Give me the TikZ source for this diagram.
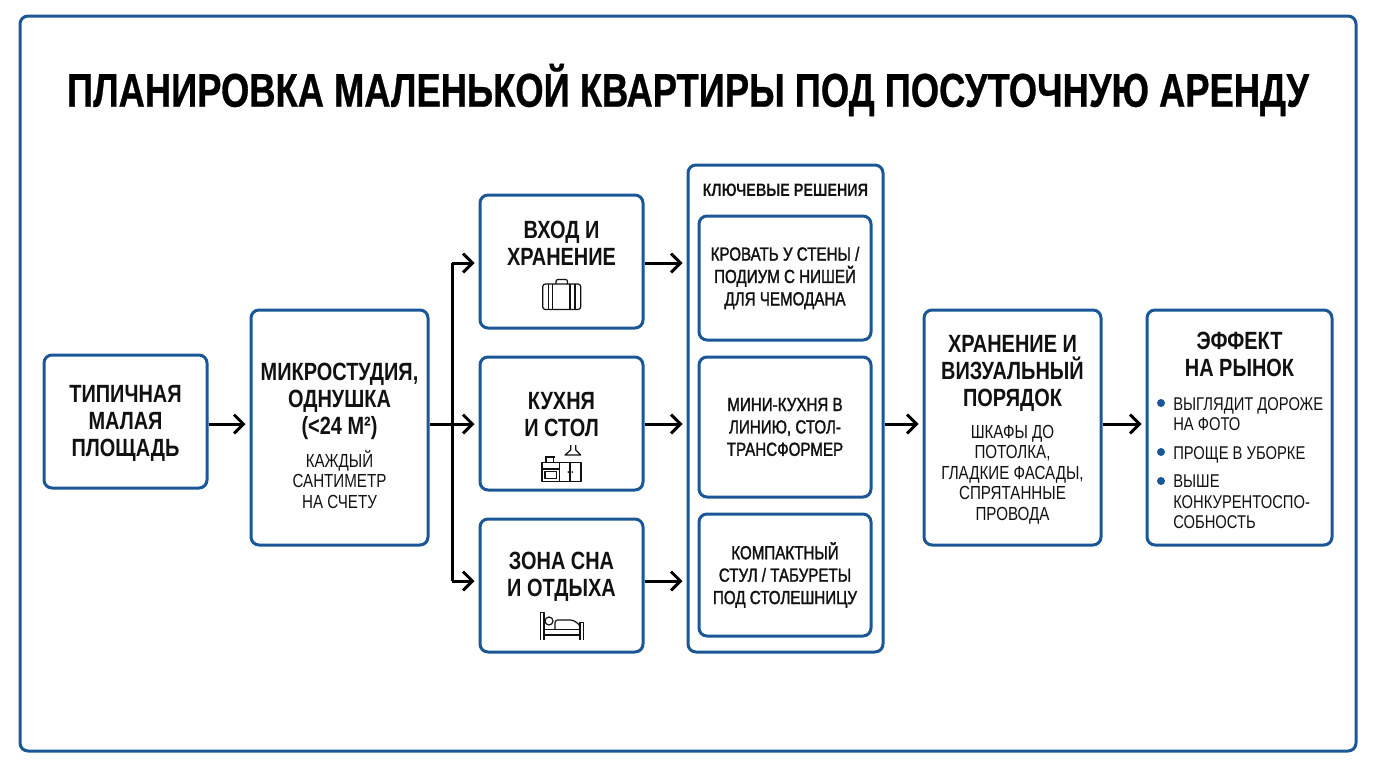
\documentclass[tikz,border=0pt]{standalone}
\usepackage{fontspec}
\setmainfont{Liberation Sans}[FakeStretch=0.8]
\newfontfamily\medfont{Liberation Sans}[FakeStretch=0.8,FakeBold=1.5]
\newfontfamily\titlefont{Liberation Sans Bold}[FakeStretch=0.768,FakeBold=0.6]
\usetikzlibrary{arrows.meta}
\definecolor{frameblue}{HTML}{1B5796}
\definecolor{inkblack}{HTML}{111111}
\newcommand{\headfont}{\bfseries\fontsize{18.7}{20.25}\selectfont}
\newcommand{\subfont}{\fontsize{14.2}{15.3}\selectfont}
\newcommand{\pointfont}{\fontsize{13.85}{15.2}\selectfont}
\newcommand{\solvefont}{\medfont\fontsize{14.2}{16.8}\selectfont}

\begin{document}
\begin{tikzpicture}[x=0.75pt,y=-0.75pt,line join=round,
	box/.style={draw=frameblue,line width=2.25pt,rounded corners=6pt,fill=white,inner sep=0pt,text=inkblack,align=center},
	smallbox/.style={box,minimum width=122.25pt,minimum height=99.75pt},
	tallbox/.style={box,minimum width=132.75pt,minimum height=176.25pt},
	solvebox/.style={box,minimum width=129pt,font=\solvefont},
	head/.style={font=\headfont,text=inkblack,align=center,inner sep=0pt},
	sub/.style={font=\subfont,text=inkblack,align=center,inner sep=0pt},
	point/.style={font=\pointfont,text=inkblack,align=left,inner sep=0pt,anchor=north west},
	dot/.style={circle,fill=frameblue,inner sep=0pt,minimum size=6pt},
	flow/.style={line width=2.25pt,black,-{Straight Barb[length=7pt,width=14pt]},shorten >=3pt},
	trunk/.style={line width=2.25pt,black},
	icon/.style={line width=0.9pt,inkblack}
	]
	\useasboundingbox (0,0) rectangle (1376,768);
	\draw[draw=frameblue,line width=2.25pt,rounded corners=6pt,fill=white] (20,16) rectangle (1356,751);
	\node[inner sep=0pt,text=black,font=\titlefont\fontsize{35.5}{40}\selectfont](title) at (688,90){ПЛАНИРОВКА МАЛЕНЬКОЙ КВАРТИРЫ ПОД ПОСУТОЧНУЮ АРЕНДУ};

	\coordinate (rowa) at (0,263);
	\coordinate (rowb) at (0,424);
	\coordinate (rowc) at (0,581);
	\coordinate (split) at (452,424);

	\node[smallbox](area) at (125.5,421.5){};
	\node[head](areahead) at (125.5,423){ТИПИЧНАЯ\\МАЛАЯ\\ПЛОЩАДЬ};
	\node[tallbox](studio) at (339.5,427.5){};
	\node[head](studiohead) at (339.5,401.5){МИКРОСТУДИЯ,\\ОДНУШКА\\(<24 М²)};
	\node[sub](studiosub) at (339.5,479.5){КАЖДЫЙ\\САНТИМЕТР\\НА СЧЕТУ};

	\node[smallbox](entry) at (561.5,261.5){};
	\node[head](entryhead) at (561.5,243.5){ВХОД И\\ХРАНЕНИЕ};
	\node[smallbox](kitchen) at (561.5,423.5){};
	\node[head](kitchenhead) at (561.5,414.5){КУХНЯ\\И СТОЛ};
	\node[smallbox](sleep) at (561.5,585.5){};
	\node[head](sleephead) at (561.5,576.5){ЗОНА СНА\\И ОТДЫХА};

	\draw[icon,fill=white,rounded corners=1.5pt] (556,284)--(556,279.5)--(567.5,279.5)--(567.5,284);
	\draw[icon,rounded corners=2pt] (542.7,284) rectangle (580.7,309.5);
	\draw[icon] (548.3,284)--(548.3,309.5) (552.7,284)--(552.7,309.5) (570,284)--(570,309.5) (575,284)--(575,309.5);

	\draw[icon] (542,462.7) rectangle (581,481.3) (559.3,462.7)--(559.3,481.3) (570,462.7)--(570,481.3);
	\draw[icon] (545,471.7) rectangle (556.7,478.3) (542,469)--(559.3,469);
	\draw[icon] (546,457) rectangle (553.3,462.7) (544.5,457)--(554.8,457);
	\draw[icon] (570.7,445)--(570.7,450)--(565,455)--(580.7,455)--(575.7,450)--(575.7,445);
	\fill[inkblack] (568.3,472) circle (0.7pt) (572.3,472) circle (0.7pt);

	\draw[icon] (540.7,640)--(540.7,612.7)--(544,612.7)--(544,640);
	\draw[icon] (580,640)--(580,622.7)--(583.3,622.7)--(583.3,640);
	\draw[icon] (544,629.3)--(580,629.3) (544,635)--(580,635);
	\draw[icon] (549,621) circle (3pt);
	\draw[icon,rounded corners=2pt] (555,629.3)--(555,620)--(573,620)--(580,625)--(580,629.3);

	\node[box,minimum width=146.25pt,minimum height=365.25pt](panel) at (785.5,408.5){};
	\node[inner sep=0pt,text=inkblack,font=\bfseries\fontsize{13.45}{15}\selectfont](paneltitle) at (785.5,190.5){КЛЮЧЕВЫЕ РЕШЕНИЯ};
	\node[solvebox,minimum height=93pt](solvea) at (785,278){КРОВАТЬ У СТЕНЫ /\\ПОДИУМ С НИШЕЙ\\ДЛЯ ЧЕМОДАНА};
	\node[solvebox,minimum height=105pt](solveb) at (785,427){МИНИ-КУХНЯ В\\ЛИНИЮ, СТОЛ-\\ТРАНСФОРМЕР};
	\node[solvebox,minimum height=91.5pt](solvec) at (785,575){КОМПАКТНЫЙ\\СТУЛ / ТАБУРЕТЫ\\ПОД СТОЛЕШНИЦУ};

	\node[tallbox](order) at (1012.5,427.5){};
	\node[head](orderhead) at (1012.5,373){ХРАНЕНИЕ И\\ВИЗУАЛЬНЫЙ\\ПОРЯДОК};
	\node[sub](ordersub) at (1012.5,474.5){ШКАФЫ ДО\\ПОТОЛКА,\\ГЛАДКИЕ ФАСАДЫ,\\СПРЯТАННЫЕ\\ПРОВОДА};

	\node[tallbox,minimum width=138.75pt](market) at (1239.5,427.5){};
	\node[head](markethead) at (1239.5,354.5){ЭФФЕКТ\\НА РЫНОК};
	\node[dot](dota) at (1161,403){};
	\node[point](pointa) at (1173,397){ВЫГЛЯДИТ ДОРОЖЕ\\НА ФОТО};
	\node[dot](dotb) at (1161,452){};
	\node[point](pointb) at (1173,446){ПРОЩЕ В УБОРКЕ};
	\node[dot](dotc) at (1161,481){};
	\node[point](pointc) at (1173,475){ВЫШЕ\\КОНКУРЕНТОСПО-\\СОБНОСТЬ};

	\draw[flow] (area.east |- rowb) -- (studio.west |- rowb);
	\draw[flow] (studio.east |- rowb) -- (kitchen.west |- rowb);
	\draw[trunk] (split |- rowa) -- (split |- rowc);
	\draw[flow] (split |- rowa) -- (entry.west |- rowa);
	\draw[flow] (split |- rowc) -- (sleep.west |- rowc);
	\draw[flow] (entry.east |- rowa) -- (panel.west |- rowa);
	\draw[flow] (kitchen.east |- rowb) -- (panel.west |- rowb);
	\draw[flow] (sleep.east |- rowc) -- (panel.west |- rowc);
	\draw[flow] (panel.east |- rowb) -- (order.west |- rowb);
	\draw[flow] (order.east |- rowb) -- (market.west |- rowb);
\end{tikzpicture}
\end{document}
